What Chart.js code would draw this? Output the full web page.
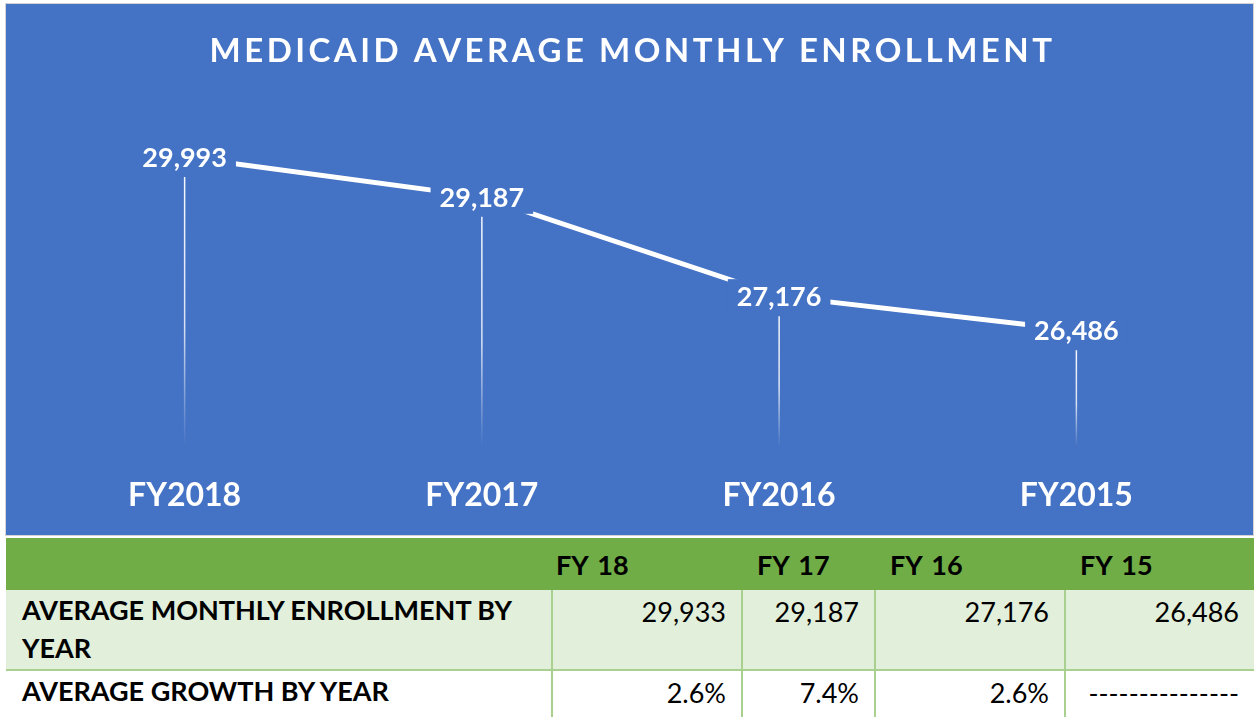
<!DOCTYPE html>
<html>
<head>
<meta charset="utf-8">
<script src="https://cdn.jsdelivr.net/npm/chart.js@4"></script>
<style>
  body { margin:0; background:#fff; width:1254px; height:717px; overflow:hidden; position:relative; font-family:Lato, "Open Sans", sans-serif; }
  #box { position:absolute; left:5px; top:3px; width:1247px; height:531px; border:1px solid #d4d4d4; background:#4472C4; }
  #chart { display:block; }
  table { position:absolute; left:6px; top:538px; width:1248px; border-collapse:collapse; table-layout:fixed; font-size:27px; color:#000; }
  td { padding:0; vertical-align:top; }
  tr.head td { background:#70AD47; height:52px; font-weight:bold; vertical-align:middle; word-spacing:3px; }
  tr.r1 td { background:#E2EFDA; height:76px; border:2px solid #A9D08E; border-top:none; }
  tr.r2 td { background:#fff; height:48px; border:2px solid #A9D08E; border-top:none; }
  tr.r1 td:first-child, tr.r2 td:first-child { border-left:none; }
  tr.r1 td:last-child, tr.r2 td:last-child { border-right:none; }
  td.lab { font-weight:bold; padding:1px 0 0 16px; line-height:38px; }
  td.num { text-align:right; padding:3px 15px 0 0; line-height:38px; }
</style>
</head>
<body>
<div id="box"><canvas id="chart" width="1247" height="531"></canvas></div>
<table id="tbl"></table>
<script>
var titulo = "MEDICAID AVERAGE MONTHLY ENROLLMENT";
var anos = ["FY2018", "FY2017", "FY2016", "FY2015"];
var inscritos = [29993, 29187, 27176, 26486];
var cabecalho = ["", "FY 18", "FY 17", "FY 16", "FY 15"];
var linhaMedia = ["29,933", "29,187", "27,176", "26,486"];
var linhaCrescimento = ["2.6%", "7.4%", "2.6%", "---------------"];
var rotulos = ["AVERAGE MONTHLY ENROLLMENT BY<br>YEAR", "AVERAGE GROWTH BY YEAR"];

var azul = "#4472C4";

// tabela de baixo
var larguras = [546, 190, 133, 190, 189];
var html = "<colgroup>" + larguras.map(w => "<col style='width:" + w + "px'>").join("") + "</colgroup>";
var padCab = [0, 4, 15, 15, 15];
html += "<tr class='head'>" + cabecalho.map((t, i) => "<td style='padding-left:" + padCab[i] + "px'>" + t + "</td>").join("") + "</tr>";
html += "<tr class='r1'><td class='lab'>" + rotulos[0] + "</td>" + linhaMedia.map(v => "<td class='num'>" + v + "</td>").join("") + "</tr>";
html += "<tr class='r2'><td class='lab'>" + rotulos[1] + "</td>" + linhaCrescimento.map(v => "<td class='num'>" + v + "</td>").join("") + "</tr>";
document.getElementById("tbl").innerHTML = html;

const tituloPlugin = {
  id: "tituloPlugin",
  beforeDraw(chart) {
    const ctx = chart.ctx;
    ctx.save();
    ctx.font = "bold 33px Lato";
    ctx.letterSpacing = "3.5px";
    ctx.fillStyle = "#fff";
    ctx.textAlign = "center";
    ctx.textBaseline = "middle";
    ctx.fillText(titulo, chart.width / 2 + 3, 47);
    ctx.restore();
  }
};

const linhasPlugin = {
  id: "linhasPlugin",
  beforeDatasetsDraw(chart) {
    const ctx = chart.ctx;
    const pts = chart.getDatasetMeta(0).data;
    const fundo = chart.chartArea.bottom - 6;
    ctx.save();
    pts.forEach(p => {
      const topo = p.y + 20;
      const g = ctx.createLinearGradient(0, topo, 0, fundo);
      g.addColorStop(0, "rgba(255,255,255,0.95)");
      g.addColorStop(0.55, "rgba(255,255,255,0.8)");
      g.addColorStop(1, "rgba(255,255,255,0)");
      ctx.strokeStyle = g;
      ctx.lineWidth = 1.5;
      ctx.beginPath();
      ctx.moveTo(p.x, topo);
      ctx.lineTo(p.x, fundo);
      ctx.stroke();
    });
    ctx.restore();
  },
  afterDatasetsDraw(chart) {
    const ctx = chart.ctx;
    const pts = chart.getDatasetMeta(0).data;
    ctx.save();
    ctx.font = "bold 27px Lato";
    ctx.textAlign = "center";
    ctx.textBaseline = "middle";
    pts.forEach((p, i) => {
      const txt = inscritos[i].toLocaleString("en-US");
      const w = ctx.measureText(txt).width;
      ctx.fillStyle = azul;
      ctx.fillRect(p.x - w / 2 - 9, p.y - 17, w + 18, 34);
      ctx.fillStyle = "#fff";
      ctx.fillText(txt, p.x, p.y + 1);
    });
    ctx.restore();
  }
};

new Chart("chart", {
  type: "line",
  data: {
    labels: anos,
    datasets: [{
      data: inscritos,
      borderColor: "#fff",
      borderWidth: 5,
      pointRadius: 0,
      tension: 0,
      fill: false
    }]
  },
  options: {
    responsive: false,
    animation: false,
    layout: { padding: { top: 128, left: 30, right: 28, bottom: 0 } },
    plugins: { legend: { display: false }, tooltip: { enabled: false } },
    scales: {
      y: { display: false, min: 24000, max: 30500 },
      x: {
        offset: true,
        grid: { display: false, drawTicks: false },
        border: { display: false },
        afterFit(axis) { axis.height = 82; },
        ticks: { color: "#fff", padding: 23, font: { family: "Lato", size: 32, weight: "bold" } }
      }
    }
  },
  plugins: [tituloPlugin, linhasPlugin]
});
</script>
</body>
</html>
